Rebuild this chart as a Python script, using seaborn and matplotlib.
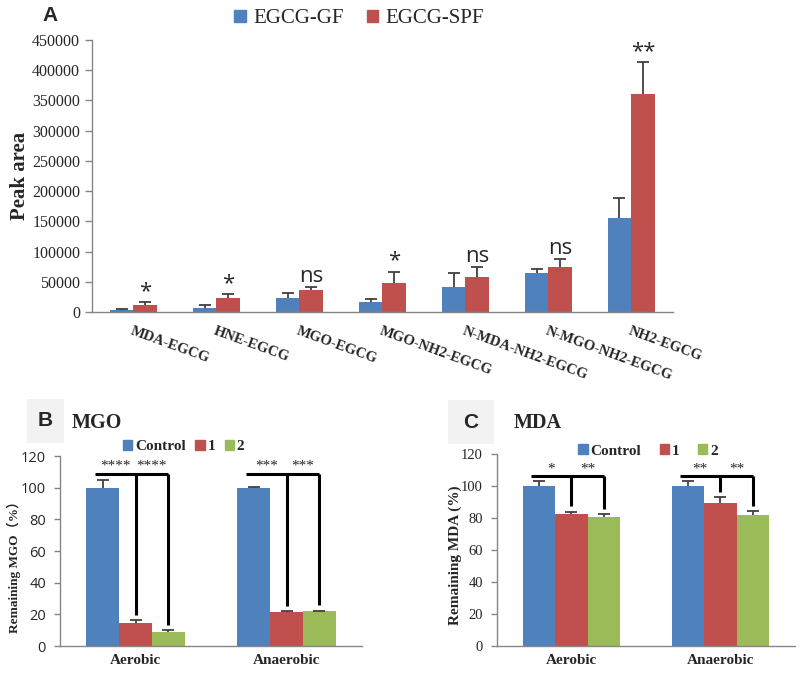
import numpy as np
import pandas as pd
import seaborn as sns
import matplotlib.pyplot as plt
from matplotlib.patches import Patch, Rectangle

# panel A data
a_cats = ['MDA-EGCG', 'HNE-EGCG', 'MGO-EGCG', 'MGO-NH2-EGCG',
          'N-MDA-NH2-EGCG', 'N-MGO-NH2-EGCG', 'NH2-EGCG']
a_groups = ['EGCG-GF', 'EGCG-SPF']
a_gf = [4000, 7000, 22500, 16000, 40800, 65000, 156000]
a_gf_err = [1200, 4000, 9000, 5000, 24000, 6600, 32600]
a_spf = [12000, 23000, 36800, 48000, 57900, 73900, 360000]
a_spf_err = [4500, 7000, 4000, 18700, 17000, 13000, 53500]
a_sig = ['*', '*', 'ns', '*', 'ns', 'ns', '**']

# panels B / C data
conds = ['Aerobic', 'Anaerobic']
bc_groups = ['Control', '1', '2']
b_ctrl, b_ctrl_err = [100, 100], [5.0, 0.6]
b_one, b_one_err = [14.6, 21.5], [1.6, 0.5]
b_two, b_two_err = [9.1, 21.8], [0.8, 0.6]
b_sig = [['****', '****'], ['***', '***']]
c_ctrl, c_ctrl_err = [100, 100], [3.1, 3.0]
c_one, c_one_err = [82.5, 89.1], [1.4, 3.8]
c_two, c_two_err = [80.6, 81.6], [1.7, 2.5]
c_sig = [['*', '**'], ['**', '**']]

blue, red, green = '#4F81BD', '#C0504D', '#9BBB59'
axis_grey = '#868686'
err_col = '#404040'

sns.set_theme(style='white')
plt.rcParams['font.family'] = ['Liberation Serif', 'Noto Sans CJK SC']
serif = ['Liberation Serif', 'Noto Sans CJK SC']
sans = ['Open Sans', 'DejaVu Sans']


def grouped(ax, cats, groups, vals, errs, colors, width):
    df = pd.DataFrame([(c, g, v) for g, vs in zip(groups, vals) for c, v in zip(cats, vs)],
                      columns=['cat', 'grp', 'val'])
    sns.barplot(data=df, x='cat', y='val', hue='grp', order=cats, hue_order=groups,
                palette=colors, width=width, saturation=1, errorbar=None,
                linewidth=0, legend=False, ax=ax)
    centers, tops = [], []
    for cont, e in zip(ax.containers, errs):
        xs = [p.get_x() + p.get_width() / 2 for p in cont]
        hs = [p.get_height() for p in cont]
        ts = [h + v for h, v in zip(hs, e)]
        # upper error bar only, with a cap at the top
        ax.vlines(xs, hs, ts, color=err_col, lw=1.3)
        ax.plot(xs, ts, ls='', marker='_', markersize=8, markeredgewidth=1.3, color=err_col)
        centers.append(xs)
        tops.append(ts)
    return centers, tops


def style_axes(ax, n):
    for s in ['top', 'right']:
        ax.spines[s].set_visible(False)
    for s in ['left', 'bottom']:
        ax.spines[s].set_color(axis_grey)
        ax.spines[s].set_linewidth(1)
    ax.set_xlim(-0.5, n - 0.5)
    ax.set_xticks(np.arange(n + 1) - 0.5, minor=True)
    ax.tick_params(axis='x', which='major', length=0)
    ax.tick_params(axis='x', which='minor', length=5, color=axis_grey, width=1, direction='out')
    ax.tick_params(axis='y', which='major', length=5, color=axis_grey, width=1, direction='out',
                   left=True)
    ax.set_xlabel('')


fig = plt.figure(figsize=(8, 6.73), dpi=100)

# ---------------- panel A ----------------
axA = fig.add_axes([0.115, 0.5364, 0.726, 0.4042])
cA, tA = grouped(axA, a_cats, a_groups, [a_gf, a_spf], [a_gf_err, a_spf_err], [blue, red], 0.57)
style_axes(axA, len(a_cats))
axA.set_ylim(0, 450000)
axA.set_yticks(np.arange(0, 450001, 50000))
axA.set_yticklabels([str(v) for v in range(0, 450001, 50000)], fontsize=11.5, family=serif)
axA.set_xticks(range(len(a_cats)))
axA.set_xticklabels(a_cats, fontsize=10.5, fontweight='bold', family=serif)
plt.setp(axA.get_xticklabels(), rotation=-20, ha='left', va='top', rotation_mode='anchor')
axA.tick_params(axis='x', which='major', pad=9)
axA.set_ylabel('Peak area', fontsize=15, fontweight='bold', family=serif)
axA.yaxis.set_label_coords(-0.106, 0.5)
for x, top, s in zip(cA[1], tA[1], a_sig):
    axA.annotate(s, xy=(x, top), xytext=(0, 0), textcoords='offset points',
                 ha='center', va='bottom', fontsize=16, family=sans)
fig.legend(handles=[Patch(color=blue), Patch(color=red)], labels=a_groups, loc='center',
           bbox_to_anchor=(0.449, 0.972), ncol=2, frameon=False,
           prop={'family': serif, 'size': 15}, handlelength=0.55, handleheight=0.55,
           handletextpad=0.35, columnspacing=1.1)
fig.text(0.063, 0.977, 'A', fontsize=15, fontweight='bold', family=['Liberation Sans'],
         ha='center', va='center')


# ---------------- panels B / C ----------------
def panel_bc(rect, ctrl, ctrl_err, one, one_err, two, two_err, sig, level, ylabel,
             tick_family, label_coords, leg_anchor, colspace, star_off):
    ax = fig.add_axes(rect)
    cents, tops = grouped(ax, conds, bc_groups, [ctrl, one, two], [ctrl_err, one_err, two_err],
                          [blue, red, green], 0.655)
    style_axes(ax, len(conds))
    ax.set_ylim(0, 120)
    ax.set_yticks(range(0, 121, 20))
    ax.set_yticklabels([str(v) for v in range(0, 121, 20)], fontsize=10.5, family=tick_family)
    ax.tick_params(axis='y', length=4, pad=6)
    ax.set_xticks(range(len(conds)))
    ax.set_xticklabels(conds, fontsize=11, fontweight='bold', family=serif)
    ax.tick_params(axis='x', which='major', pad=6)
    ax.set_ylabel(ylabel, fontsize=label_coords[2], fontweight='bold', family=serif)
    ax.yaxis.set_label_coords(label_coords[0], label_coords[1])
    for i in range(len(conds)):
        x0 = cents[0][i] - 0.05
        x1, x2 = cents[1][i], cents[2][i]
        ax.plot([x0, x2], [level, level], color='black', lw=2.2, solid_capstyle='butt')
        for xv, t in [(x1, tops[1][i]), (x2, tops[2][i])]:
            ax.plot([xv, xv], [level, t + 3.5], color='black', lw=2.2, solid_capstyle='butt')
        for xm, s in [((x0 + x1) / 2, sig[i][0]), ((x1 + x2) / 2, sig[i][1])]:
            ax.annotate(s, xy=(xm, level), xytext=(0, star_off), textcoords='offset points',
                        ha='center', va='center', fontsize=11, family=serif)
    ax.legend(handles=[Patch(color=c) for c in [blue, red, green]], labels=bc_groups,
              loc='center', bbox_to_anchor=leg_anchor, ncol=3, frameon=False,
              prop={'family': serif, 'size': 11, 'weight': 'bold'}, handlelength=0.6,
              handleheight=0.6, handletextpad=0.2, columnspacing=colspace, borderaxespad=0)
    return ax


panel_bc([0.075, 0.0401, 0.3775, 0.2823], b_ctrl, b_ctrl_err, b_one, b_one_err, b_two, b_two_err,
         b_sig, 108.6, 'Remaining MGO（%）', sans, (-0.128, 0.43, 9.5), (0.41, 1.049), 0.6, 6)
panel_bc([0.621, 0.0401, 0.3725, 0.2853], c_ctrl, c_ctrl_err, c_one, c_one_err, c_two, c_two_err,
         c_sig, 106.5, 'Remaining MDA (%)', serif, (-0.117, 0.473, 11), (0.508, 1.016), 1.2, 5)

# panel letters in grey boxes
for (x0, y0, w, h, letter, title, tx) in [(27, 399, 37, 44, 'B', 'MGO', 72),
                                          (448, 400, 46, 44, 'C', 'MDA', 514)]:
    fig.patches.append(Rectangle((x0 / 800, 1 - (y0 + h) / 673), w / 800, h / 673,
                                 transform=fig.transFigure, facecolor='#f2f2f2',
                                 edgecolor='none', zorder=0))
    fig.text((x0 + w / 2) / 800, 1 - (y0 + h / 2) / 673, letter, fontsize=15, fontweight='bold',
             family=['Liberation Sans'], ha='center', va='center')
    fig.text(tx / 800, 1 - 423 / 673, title, fontsize=14.5, fontweight='bold', family=serif,
             ha='left', va='center')

fig.savefig('out.png', dpi=100)
